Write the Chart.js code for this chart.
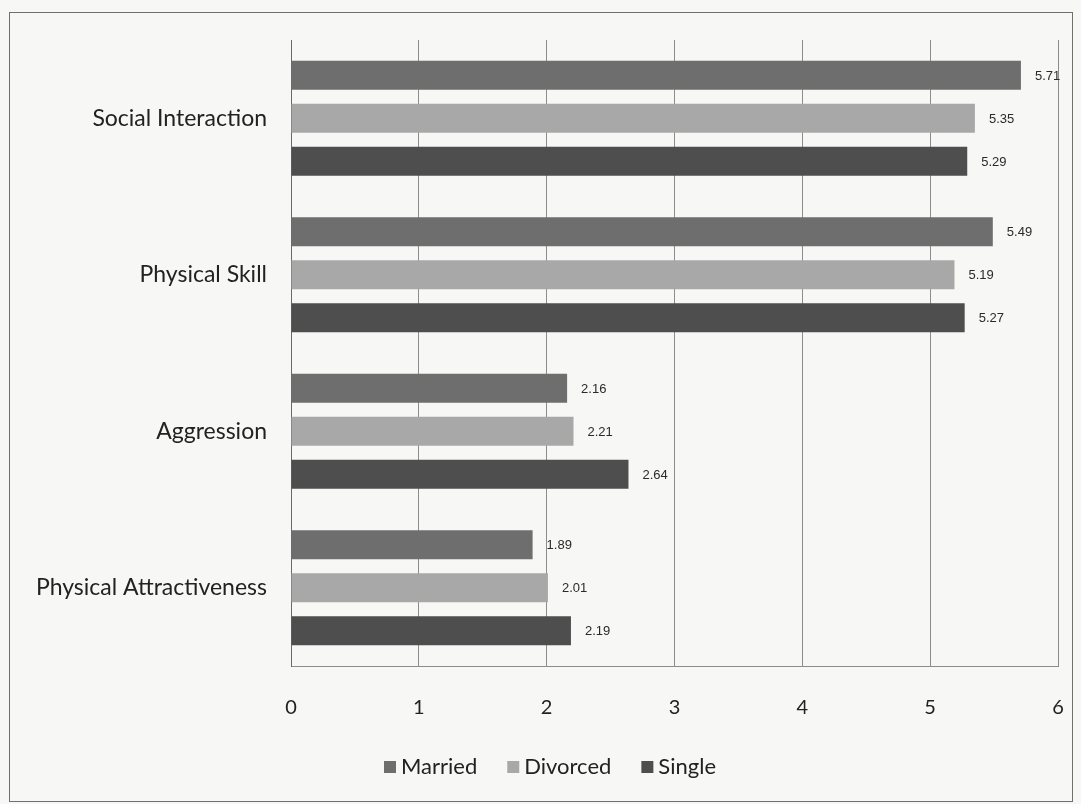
<!DOCTYPE html>
<html>
<head>
<meta charset="utf-8">
<script src="https://cdn.jsdelivr.net/npm/chart.js@4.4.1/dist/chart.umd.min.js"></script>
<style>
  html, body { margin: 0; padding: 0; background: #f6f6f4; }
  #wrap { width: 1081px; height: 804px; position: relative; }
</style>
</head>
<body>
<div id="wrap"><canvas id="c" width="1081" height="804"></canvas></div>
<script>
// Mean scores by marital status
const categories = ['Social Interaction', 'Physical Skill', 'Aggression', 'Physical Attractiveness'];
const seriesNames = ['Married', 'Divorced', 'Single'];
const married  = [5.71, 5.49, 2.16, 1.89];
const divorced = [5.35, 5.19, 2.21, 2.01];
const single   = [5.29, 5.27, 2.64, 2.19];
const xTicks = [0, 1, 2, 3, 4, 5, 6];

const seriesColors = ['#6e6e6e', '#a8a8a8', '#4e4e4e'];
const FONT = 'Lato, "Open Sans", sans-serif';

// Page background and outer frame
const frame = {
  id: 'frame',
  beforeDraw(chart) {
    const ctx = chart.ctx;
    ctx.save();
    ctx.fillStyle = '#f7f7f5';
    ctx.fillRect(0, 0, chart.width, chart.height);
    ctx.strokeStyle = '#6f6f6f';
    ctx.lineWidth = 1;
    ctx.strokeRect(9.5, 12.5, 1063, 789);
    ctx.restore();
  }
};

// Value printed to the right of each bar
const valueLabels = {
  id: 'valueLabels',
  afterDatasetsDraw(chart) {
    const ctx = chart.ctx;
    ctx.save();
    ctx.font = '13px "Liberation Sans", sans-serif';
    ctx.fillStyle = '#2a2a2a';
    ctx.textBaseline = 'middle';
    chart.data.datasets.forEach((ds, i) => {
      chart.getDatasetMeta(i).data.forEach((bar, j) => {
        ctx.fillText(ds.data[j].toFixed(2), bar.x + 14, bar.y + 1);
      });
    });
    ctx.restore();
  }
};

// Legend row under the axis
const bottomLegend = {
  id: 'bottomLegend',
  afterDraw(chart) {
    const ctx = chart.ctx;
    ctx.save();
    ctx.font = '22px ' + FONT;
    ctx.textBaseline = 'middle';
    const box = 12, gap = 5, spacing = 30;
    const items = chart.data.datasets.map(ds => ({
      label: ds.label, color: ds.backgroundColor, w: ctx.measureText(ds.label).width
    }));
    const total = items.reduce((s, it) => s + box + gap + it.w, 0) + spacing * (items.length - 1);
    let x = 550 - total / 2;
    const y = 767;
    items.forEach(it => {
      ctx.fillStyle = it.color;
      ctx.fillRect(x, y - box / 2, box, box);
      x += box + gap;
      ctx.fillStyle = '#222';
      ctx.fillText(it.label, x, y);
      x += it.w + spacing;
    });
    ctx.restore();
  }
};

new Chart(document.getElementById('c'), {
  type: 'bar',
  data: {
    labels: categories,
    datasets: [
      { label: seriesNames[0], data: married,  backgroundColor: seriesColors[0] },
      { label: seriesNames[1], data: divorced, backgroundColor: seriesColors[1] },
      { label: seriesNames[2], data: single,   backgroundColor: seriesColors[2] }
    ]
  },
  options: {
    indexAxis: 'y',
    responsive: false,
    animation: false,
    devicePixelRatio: 1,
    categoryPercentage: 0.824,
    barPercentage: 0.67,
    layout: { padding: { left: 0, right: 23, top: 40, bottom: 54 } },
    plugins: {
      legend: { display: false },
      tooltip: { enabled: false }
    },
    scales: {
      x: {
        min: xTicks[0],
        max: xTicks[xTicks.length - 1],
        afterBuildTicks(scale) { scale.ticks = xTicks.map(v => ({ value: v })); },
        afterFit(scale) {
          scale.height = 84;
          scale.paddingLeft = 0;
          scale.paddingRight = 0;
        },
        ticks: { color: '#222', font: { family: FONT, size: 20 }, padding: 30 },
        grid: { color: '#8c8c8c', lineWidth: 1, drawTicks: false },
        border: { display: true, color: '#8c8c8c' }
      },
      y: {
        afterFit(scale) { scale.width = 291; },
        ticks: { color: '#222', font: { family: FONT, size: 23 }, padding: 24 },
        grid: { display: false, drawTicks: false },
        border: { display: true, color: '#6a6a6a' }
      }
    }
  },
  plugins: [frame, valueLabels, bottomLegend]
});
</script>
</body>
</html>
